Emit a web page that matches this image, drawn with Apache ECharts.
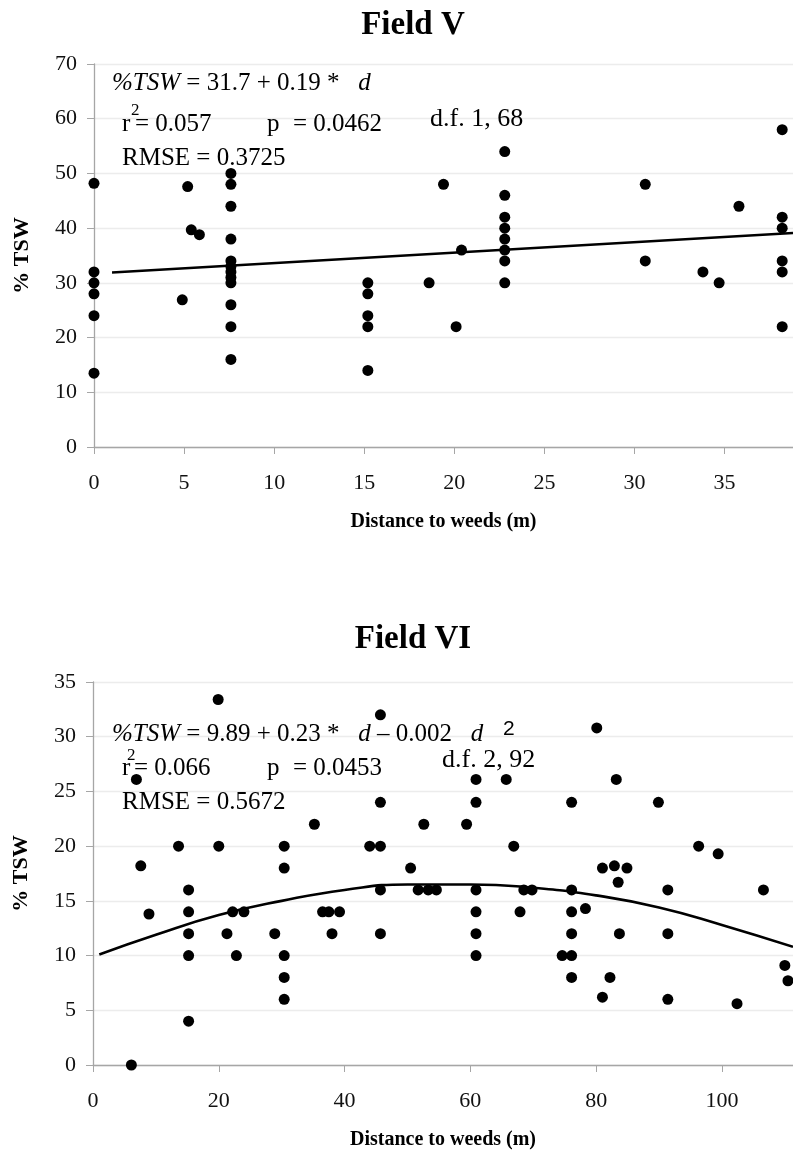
<!DOCTYPE html>
<html>
<head>
<meta charset="utf-8">
<script src="https://cdn.jsdelivr.net/npm/echarts@6/dist/echarts.min.js"></script>
<style>
  html, body { margin: 0; padding: 0; background: #fff; }
  #chart { width: 793px; height: 1154px; }
</style>
</head>
<body>
<div id="chart"></div>
<script>
  // Field V: distance to weeds (m) vs %TSW
  const fieldV_d = [
    0, 0, 0, 0, 0, 0,
    4.9, 5.2, 5.4, 5.85,
    7.6, 7.6, 7.6, 7.6, 7.6, 7.6, 7.6, 7.6, 7.6, 7.6, 7.6, 7.6,
    15.2, 15.2, 15.2, 15.2, 15.2,
    18.6, 19.4, 20.1, 20.4,
    22.8, 22.8, 22.8, 22.8, 22.8, 22.8, 22.8, 22.8,
    30.6, 30.6, 33.8, 34.7, 35.8,
    38.2, 38.2, 38.2, 38.2, 38.2, 38.2
  ];
  const fieldV_tsw = [
    48.2, 32, 30, 28, 24, 13.5,
    26.9, 47.6, 39.7, 38.8,
    50, 48, 44, 38, 34, 33, 32, 31, 30, 26, 22, 16,
    30, 28, 24, 22, 14,
    30, 48, 22, 36,
    54, 46, 42, 40, 38, 36, 34, 30,
    48, 34, 32, 30, 44,
    58, 42, 40, 34, 32, 22
  ];
  // fitted line as drawn
  const fitV_d = [1, 38.8];
  const fitV_tsw = [31.9, 39.1];
  const xTicksV = [0, 5, 10, 15, 20, 25, 30, 35];

  // Field VI
  const fieldVI_d = [
    6.1, 6.9, 7.6, 8.9, 13.6,
    15.2, 15.2, 15.2, 15.2, 15.2,
    19.9, 20.0, 21.3, 22.2, 22.8, 24.0, 28.9,
    30.4, 30.4, 30.4, 30.4, 30.4,
    35.2, 36.5, 37.5, 38.0, 39.2, 44.0,
    45.7, 45.7, 45.7, 45.7, 45.7,
    50.5, 51.7, 53.3, 54.6, 52.6, 59.4,
    60.9, 60.9, 60.9, 60.9, 60.9, 60.9,
    65.7, 66.9, 67.9, 68.5, 69.8, 74.6,
    76.1, 76.1, 76.1, 76.1, 76.1, 76.1,
    78.3, 80.1, 81.0, 81.0, 82.2, 82.9, 83.2, 83.5, 83.7, 84.9, 89.9,
    91.4, 91.4, 91.4,
    96.3, 99.4, 102.4, 106.6, 110.0, 110.5
  ];
  const fieldVI_tsw = [
    0, 26.1, 18.2, 13.8, 20,
    16, 14, 12, 10, 4,
    33.4, 20, 12, 14, 10, 14, 12,
    20, 18, 10, 8, 6,
    22, 14, 14, 12, 14, 20,
    32, 24, 20, 16, 12,
    18, 16, 16, 16, 22, 22,
    26.1, 24, 16, 14, 12, 10,
    26.1, 20, 14, 16, 16, 10,
    24, 16, 14, 12, 10, 8,
    14.3, 30.8, 18, 6.2, 8, 18.2, 26.1, 16.7, 12, 18, 24,
    16, 12, 6,
    20, 19.3, 5.6, 16, 9.1, 7.7
  ];
  const fitVI_d = [1, 10, 20, 30, 40, 50, 60, 70, 80, 90, 100, 111.3];
  const fitVI_tsw = [10.1, 11.9, 13.7, 15.0, 16.0, 16.5, 16.5, 16.2, 15.5, 14.4, 12.8, 10.8];
  const xTicksVI = [0, 20, 40, 60, 80, 100];

  const zip = (a, b) => a.map((v, i) => [v, b[i]]);

  const SERIF = '"Liberation Serif", "Times New Roman", serif';
  const axisGrey = '#a6a6a6';

  function xAxisFor(gridIndex, max, ticks) {
    return {
      type: 'value', gridIndex: gridIndex, min: 0, max: max,
      name: 'Distance to weeds (m)', nameLocation: 'middle', nameGap: 65,
      nameTextStyle: { fontFamily: SERIF, fontWeight: 'bold', fontSize: 20, color: '#000' },
      axisLine: { show: true, onZero: false, lineStyle: { color: axisGrey, width: 1.3 } },
      axisTick: { show: true, inside: false, length: 7, customValues: ticks, lineStyle: { color: axisGrey } },
      axisLabel: { customValues: ticks, margin: 25, fontFamily: SERIF, fontSize: 22, color: '#111' },
      splitLine: { show: false }
    };
  }

  function yAxisFor(gridIndex, max, interval) {
    return {
      type: 'value', gridIndex: gridIndex, min: 0, max: max, interval: interval,
      name: '% TSW', nameLocation: 'middle', nameGap: 61, nameRotate: 90,
      nameTextStyle: { fontFamily: SERIF, fontWeight: 'bold', fontSize: 22, color: '#000' },
      axisLine: { show: true, lineStyle: { color: axisGrey, width: 1.3 } },
      axisTick: { show: true, inside: false, length: 7, lineStyle: { color: axisGrey } },
      axisLabel: { margin: 17, fontFamily: SERIF, fontSize: 22, color: '#111' },
      splitLine: { show: true, lineStyle: { color: '#ececec', width: 1.3 } }
    };
  }

  function txt(x, y, text, size, extra) {
    return {
      type: 'text', x: x, y: y, z: 100, silent: true,
      style: Object.assign({
        text: text, fontFamily: SERIF, fontSize: size || 25, fill: '#000',
        verticalAlign: 'middle',
        rich: { i: { fontStyle: 'italic', fontFamily: SERIF, fontSize: size || 25 } }
      }, extra || {})
    };
  }

  const option = {
    animation: false,
    backgroundColor: '#fff',
    title: [
      { text: 'Field V', left: 408, top: 4, textAlign: 'center',
        textStyle: { fontFamily: SERIF, fontWeight: 'bold', fontSize: 33, color: '#000' } },
      { text: 'Field VI', left: 408, top: 618, textAlign: 'center',
        textStyle: { fontFamily: SERIF, fontWeight: 'bold', fontSize: 33, color: '#000' } }
    ],
    grid: [
      { left: 94, top: 64, width: 699, height: 383 },
      { left: 93, top: 682, width: 700, height: 383 }
    ],
    xAxis: [xAxisFor(0, 38.8, xTicksV), xAxisFor(1, 111.3, xTicksVI)],
    yAxis: [yAxisFor(0, 70, 10), yAxisFor(1, 35, 5)],
    series: [
      { type: 'scatter', xAxisIndex: 0, yAxisIndex: 0, data: zip(fieldV_d, fieldV_tsw),
        symbolSize: 11, itemStyle: { color: '#000', opacity: 1 }, z: 3 },
      { type: 'line', xAxisIndex: 0, yAxisIndex: 0, data: zip(fitV_d, fitV_tsw),
        showSymbol: false, lineStyle: { color: '#000', width: 2.6 }, z: 2 },
      { type: 'scatter', xAxisIndex: 1, yAxisIndex: 1, data: zip(fieldVI_d, fieldVI_tsw),
        symbolSize: 11, itemStyle: { color: '#000', opacity: 1 }, z: 3 },
      { type: 'line', xAxisIndex: 1, yAxisIndex: 1, data: zip(fitVI_d, fitVI_tsw),
        showSymbol: false, smooth: true, lineStyle: { color: '#000', width: 2.6 }, z: 2 }
    ],
    graphic: [
      // Field V annotations
      txt(112, 83, '{i|%TSW} = 31.7 + 0.19 *   {i|d}'),
      txt(122, 124, 'r'),
      txt(131, 111, '2', 17),
      txt(135, 124, '= 0.057'),
      txt(267, 124, 'p'),
      txt(293, 124, '= 0.0462'),
      txt(430, 119, 'd.f. 1, 68', 26),
      txt(122, 158, 'RMSE = 0.3725'),
      // Field VI annotations
      txt(112, 734, '{i|%TSW} = 9.89 + 0.23 *   {i|d} \u2013 0.002   {i|d}'),
      txt(503, 729, '2', 21, { fontFamily: '"Liberation Sans", Arial, sans-serif' }),
      txt(122, 768, 'r'),
      txt(127, 756, '2', 17),
      txt(134, 768, '= 0.066'),
      txt(267, 768, 'p'),
      txt(293, 768, '= 0.0453'),
      txt(442, 760, 'd.f. 2, 92', 26),
      txt(122, 802, 'RMSE = 0.5672')
    ]
  };

  const chart = echarts.init(document.getElementById('chart'), null, { renderer: 'canvas' });
  chart.setOption(option);
</script>
</body>
</html>
